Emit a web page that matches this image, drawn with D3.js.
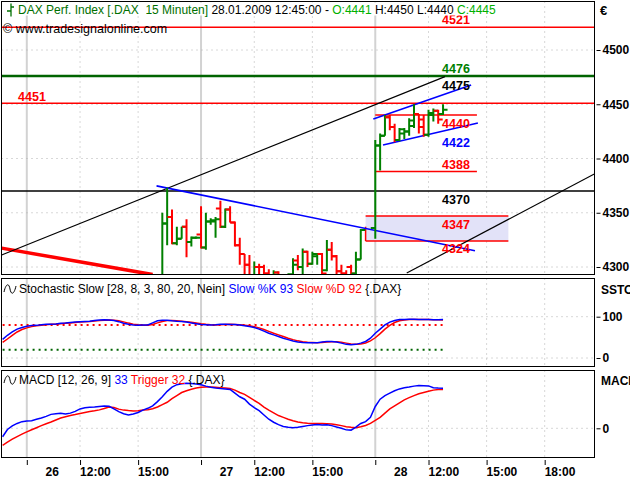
<!DOCTYPE html>
<html><head><meta charset="utf-8">
<script src="https://cdn.jsdelivr.net/npm/d3@7"></script>
<style>
body{margin:0;background:#fff}
svg{display:block}
text{font-family:"Liberation Sans",Arial,sans-serif;white-space:pre}
</style>
</head><body>
<svg id="c" width="640" height="480"></svg>
<script>
// ---------- DATA ----------
// bar slot index: 36 fifteen-minute slots per day, slot 0 = 26.01 09:15
const barSlot  = [28,29,30,31,32,33,34,35,36,37,38,39,40,41,42,43,44,45,46,47,48,49,50,51,52,53,54,55,56,57,58,59,60,61,62,63,64,65,66,67,68,69,72,73,74,75,76,77,78,79,80,81,82,83,84,85,86];
const barOpen  = [4285,4340,4346,4322,4326,4337,4323,4327,4330,4318,4342,4342,4354,4337,4353,4341,4320,4312,4302,4290,4300,4300,4294,4288,4295,4285,4288,4293,4306,4300,4314,4303,4310,4312,4297,4316,4310,4296,4294,4300,4294,4307,4336,4412,4421,4438,4429,4417,4423,4425,4430,4441,4436,4422,4440,4444,4441];
const barHigh  = [4350,4373,4353,4337,4337,4344,4328,4328,4356,4350,4345,4346,4361,4354,4356,4342,4327,4312,4311,4305,4303,4302,4298,4297,4296,4292,4294,4308,4311,4317,4315,4314,4313,4313,4325,4323,4311,4302,4297,4302,4314,4335,4417,4423,4440,4440,4432,4428,4428,4437,4450,4441,4440,4445,4446,4445,4450];
const barLow   = [4270,4320,4321,4320,4326,4309,4319,4326,4317,4316,4339,4327,4336,4336,4341,4319,4302,4293,4285,4288,4285,4290,4285,4284,4280,4278,4282,4290,4297,4290,4300,4302,4302,4292,4296,4306,4293,4290,4288,4291,4292,4307,4326,4389,4421,4426,4415,4416,4418,4421,4428,4423,4420,4420,4434,4432,4440];
const barClose = [4340,4346,4322,4326,4337,4323,4327,4327,4318,4342,4343,4344,4337,4353,4341,4320,4312,4302,4290,4300,4292,4294,4290,4295,4285,4290,4293,4302,4300,4314,4303,4312,4312,4294,4316,4310,4296,4294,4292,4294,4307,4334,4412,4421,4438,4429,4417,4427,4425,4435,4441,4429,4422,4442,4444,4436,4445];

// indicator series, slots -5 .. 86
const stochK = [45,55,63,70,74,77,78.5,79,80.5,82,82,82.5,84,84.5,86,87,88,88.5,89,91,92,92.5,92,91,88,84,81.5,80,79.5,80,80,85,90,91.5,91.5,90,89,88.5,87,85,83,81,80.5,80,80.5,81.5,81.5,81,81,80,78,76,74,70,65,60,56,52,48,44.5,41,39,37.5,37,37,37,38.5,40,40,38.5,36,33,32,33,36,40,48,60,70,80,87,91,93,93.5,94,94,93.5,93.5,93,92.5,92.5,93];
const stochD = [38,46,55,63,69,73,76,78,79,80.5,81.5,82,83,84,85,86,87,88,88.5,89.5,90.5,91.5,92,91.5,90,87.5,84.5,82,80.5,79.5,79.5,81,85,88.5,90.5,91,90,89,88,86.5,85,83,81.5,80.5,80,80.5,81,81.5,81,80.5,79.5,78,76,73,69,64.5,60,56,52,48,44.5,41.5,39.5,38,37.5,37,37.5,38.5,39.5,39.5,38,36,34,33,34,36.5,41.5,49,59,70,79,86,90,92,93,93.5,93.5,93.5,93,92.5,92.5,92];
const macdLine = [-7,-1,2,4,5.5,6,6.3,7.4,8.5,9.8,11.5,12,12.4,11.8,12.5,14,16,17,17.3,17.6,18,18.3,18.2,16,13.7,12,11,11.8,13,15,16.5,18.5,22,26,30.5,34,36,36.8,37.2,37,36.5,36,34.8,33.8,33.2,32.8,32.5,32,29,26,24,20,17,14.5,11,7.5,5,3,1.5,0.8,0.5,0.8,1.5,2.2,2.8,3.2,2.8,2.9,2.2,1,0,-1.3,-1.5,1,4,5.5,9,18,24,27,29,31,32.5,33.5,34,34.8,35.3,35.2,35,33.5,33.2,33];
const trigLine = [-14,-11.5,-9,-6.8,-4.8,-3,-1.2,0.5,2.2,3.8,5.2,6.8,8.5,9.5,10.5,11.3,12.2,13,13.8,14.4,15.2,16.3,17.5,17.2,15.8,15,14.6,14.3,14.5,15,15.3,16.2,17.6,19.5,21.5,24.5,27,29.5,31,32.2,33.2,33.8,34,34,33.8,33.5,33.2,32.8,31.5,29.5,28,25.5,23,20.5,17.5,15,12.8,10.5,9,7.5,6.2,5.2,4.5,4.1,4,4,3.9,3.7,3.5,3,2.2,1.3,0.8,0.5,1.2,2.3,4,6.5,9,12.5,16,18.5,21,23.5,25.3,27,28.5,29.5,30.5,31.5,32,32];
const indFirstSlot = -5;

// axis ticks
const priceTicks = [4300,4350,4400,4450,4500];
const stochTicks = [0,100];
const macdTicks = [0];
const timeTickSlots  = [0,11,23,36,47,59,72,83,95,107];
const timeTickLabels = ["26","12:00","15:00","27","12:00","15:00","28","12:00","15:00","18:00"];
const dayStartSlots = [0,36,72];

// horizontal levels and their labels
const fullLevels   = [4521,4476,4451,4370];
const fullLevelCol = ["#ff0000","#006400","#ff0000","#000000"];
const shortLevels  = [4440,4388];          // drawn from slot 72 on
const shortFrom = 72, shortTo = 93;
const gapTop = 4347, gapBottom = 4324, gapFrom = 70, gapTo = 99.5;
const labelVals  = [4521,4476,4475,4440,4422,4388,4370,4347,4324];
const labelCols  = ["#ff0000","#008000","#000000","#ff0000","#0000ff","#ff0000","#000000","#ff0000","#ff0000"];
const labelAbove = [true,true,false,false,false,true,false,false,false];
const leftLabel = 4451;

// trend lines [slot, value] pairs
const blackUp   = [[-5.2,4311],[86.4,4475.5]];
const redDown   = [[-5.2,4317.4],[26,4293]];
const blueDown  = [[26.8,4374.8],[92.6,4314.9]];
const blueChanH = [[71.6,4436.5],[91.8,4467.8]];
const blueChanL = [[73.6,4412.5],[93.2,4432.8]];
const blackUp2  = [[78.5,4294.4],[118,4387.5]];

// ---------- LAYOUT ----------
const svg = d3.select("#c");
const L = 1.5, R = 594.5;
const P = {main:[1.5,274.5], sto:[278.5,366.5], macd:[370.5,457.5]};

const x = d3.scaleLinear().domain([0,36]).range([26.8, 26.8+36*4.84]);
const yMain = d3.scaleLinear().domain([4300,4500]).range([267,50]);
const ySto  = d3.scaleLinear().domain([0,100]).range([358,316.7]);
const yMacd = d3.scaleLinear().domain([0,33]).range([428.3,388.3]);

const defs = svg.append("defs");
Object.entries(P).forEach(([k,[t,b]])=>{
  defs.append("clipPath").attr("id","clip-"+k).append("rect")
    .attr("x",L).attr("y",t).attr("width",R-L).attr("height",b-t);
});
defs.append("clipPath").attr("id","clip-axis").append("rect")
  .attr("x",R).attr("y",0).attr("width",630-R).attr("height",480);

function panelGrid(g, t, b){
  timeTickSlots.forEach(s=>{
    const day = dayStartSlots.includes(s);
    g.append("line").attr("x1",x(s)).attr("x2",x(s)).attr("y1",t).attr("y2",b)
      .attr("stroke", day? "#d2d2d2" : "#b0b0b0")
      .attr("stroke-width", day? 2 : 1)
      .attr("stroke-dasharray", day? null : "1,4");
  });
}
function hDotted(g, y){
  g.append("line").attr("x1",L).attr("x2",R).attr("y1",y).attr("y2",y)
    .attr("stroke","#b0b0b0").attr("stroke-dasharray","1,4");
}

// ---------- MAIN PANEL ----------
const gm = svg.append("g").attr("clip-path","url(#clip-main)");
panelGrid(gm, P.main[0], P.main[1]);
priceTicks.forEach(v=>hDotted(gm, yMain(v)));

// gap box
gm.append("rect").attr("x",x(gapFrom)).attr("y",yMain(gapTop))
  .attr("width",x(gapTo)-x(gapFrom)).attr("height",yMain(gapBottom)-yMain(gapTop))
  .attr("fill","#e2e2f8");
[gapTop,gapBottom].forEach(v=>gm.append("line").attr("x1",x(gapFrom)).attr("x2",x(gapTo))
  .attr("y1",yMain(v)).attr("y2",yMain(v)).attr("stroke","#ff0000").attr("stroke-width",1.5));
gm.append("line").attr("x1",x(gapFrom)).attr("x2",x(gapFrom))
  .attr("y1",yMain(4337)).attr("y2",yMain(gapBottom)).attr("stroke","#ff0000").attr("stroke-width",1.5);

// full-width levels
fullLevels.forEach((v,i)=>{
  gm.append("line").attr("x1",L).attr("x2",R).attr("y1",yMain(v)).attr("y2",yMain(v))
    .attr("stroke",fullLevelCol[i]).attr("stroke-width", v===4476?2.5:1.5);
});
shortLevels.forEach(v=>{
  gm.append("line").attr("x1",x(shortFrom)).attr("x2",x(shortTo)).attr("y1",yMain(v)).attr("y2",yMain(v))
    .attr("stroke","#ff0000").attr("stroke-width",1.5);
});

// trend lines
const tl = d3.line().x(d=>x(d[0])).y(d=>yMain(d[1]));
function trend(pts,col,w){ gm.append("path").attr("d",tl(pts)).attr("fill","none").attr("stroke",col).attr("stroke-width",w); }
trend(redDown,"#ff0000",3.5);
trend(blackUp,"#000000",1.2);
trend(blackUp2,"#000000",1.2);
trend(blueDown,"#0000ff",1.6);
trend(blueChanH,"#0000ff",1.6);
trend(blueChanL,"#0000ff",1.6);

// bars
const bars = gm.append("g");
barSlot.forEach((s,i)=>{
  const col = barClose[i] >= barOpen[i] ? "#008000" : "#ff0000";
  const cx = x(s);
  bars.append("line").attr("x1",cx).attr("x2",cx).attr("y1",yMain(barHigh[i])).attr("y2",yMain(barLow[i]))
    .attr("stroke",col).attr("stroke-width",2);
  bars.append("line").attr("x1",cx-4.5).attr("x2",cx).attr("y1",yMain(barOpen[i])).attr("y2",yMain(barOpen[i]))
    .attr("stroke",col).attr("stroke-width",2);
  bars.append("line").attr("x1",cx).attr("x2",cx+4.5).attr("y1",yMain(barClose[i])).attr("y2",yMain(barClose[i]))
    .attr("stroke",col).attr("stroke-width",2);
});

// level labels
labelVals.forEach((v,i)=>{
  gm.append("text").attr("x",456).attr("y", labelAbove[i]? yMain(v)-3 : yMain(v)+12.5)
    .attr("text-anchor","middle").attr("font-size",12.5).attr("font-weight","bold")
    .attr("fill",labelCols[i]).text(String(v));
});
gm.append("text").attr("x",32).attr("y",yMain(leftLabel)-2.5).attr("text-anchor","middle")
  .attr("font-size",12.5).attr("font-weight","bold").attr("fill","#ff0000").text(String(leftLabel));

// title
const titleG = svg.append("g");
const tBg = titleG.append("rect").attr("fill","#fff").attr("x",16).attr("y",2.5).attr("height",13);
const title = titleG.append("text").attr("x",18).attr("y",14).attr("font-size",12);
title.append("tspan").attr("fill","#007000").text("DAX Perf. Index [.DAX  15 Minuten] ");
title.append("tspan").attr("fill","#000").text("28.01.2009 12:45:00 - ");
title.append("tspan").attr("fill","#00b000").text("O:"+barOpen[barOpen.length-1]);
title.append("tspan").attr("fill","#000").text(" H:"+barHigh[barHigh.length-1]+" L:"+barLow[barLow.length-1]+" ");
title.append("tspan").attr("fill","#00b000").text("C:"+barClose[barClose.length-1]);
tBg.attr("width", title.node().getComputedTextLength()+4);
titleG.append("path").attr("d","M11,3.5V16.5M7,11H11M11,7H14").attr("stroke","#007000").attr("stroke-width",1.3).attr("fill","none");
svg.append("text").attr("x",3).attr("y",33).attr("font-size",12.5).attr("fill","#000").text("© www.tradesignalonline.com");

// ---------- STOCHASTIC ----------
const gs = svg.append("g").attr("clip-path","url(#clip-sto)");
panelGrid(gs, P.sto[0], P.sto[1]);
stochTicks.forEach(v=>hDotted(gs, ySto(v)));
const indX = i => x(indFirstSlot + i);
const lastInd = indFirstSlot + stochK.length - 1;
gs.append("line").attr("x1",x(indFirstSlot)).attr("x2",x(lastInd)).attr("y1",ySto(80)).attr("y2",ySto(80))
  .attr("stroke","#ff0000").attr("stroke-width",2).attr("stroke-dasharray","2,4");
gs.append("line").attr("x1",x(indFirstSlot)).attr("x2",x(lastInd)).attr("y1",ySto(20)).attr("y2",ySto(20))
  .attr("stroke","#006400").attr("stroke-width",2).attr("stroke-dasharray","2,4");
const sl = d3.line().x((d,i)=>indX(i)).y(d=>ySto(d));
gs.append("path").attr("d",sl(stochD)).attr("fill","none").attr("stroke","#ff0000").attr("stroke-width",1.5);
gs.append("path").attr("d",sl(stochK)).attr("fill","none").attr("stroke","#0000ff").attr("stroke-width",1.5);

// ---------- MACD ----------
const gd = svg.append("g").attr("clip-path","url(#clip-macd)");
panelGrid(gd, P.macd[0], P.macd[1]);
macdTicks.forEach(v=>hDotted(gd, yMacd(v)));
const ml = d3.line().x((d,i)=>indX(i)).y(d=>yMacd(d));
gd.append("path").attr("d",ml(trigLine)).attr("fill","none").attr("stroke","#ff0000").attr("stroke-width",1.5);
gd.append("path").attr("d",ml(macdLine)).attr("fill","none").attr("stroke","#0000ff").attr("stroke-width",1.5);

// panel titles
function wave(xx,yy){
  svg.append("path").attr("d",`M${xx},${yy+3} C${xx+2},${yy-6} ${xx+5},${yy-6} ${xx+6},${yy} S${xx+10},${yy+6} ${xx+12},${yy-3}`)
    .attr("fill","none").attr("stroke","#000").attr("stroke-width",1);
}
wave(4,289);
const st = svg.append("text").attr("x",19).attr("y",293).attr("font-size",12);
st.append("tspan").attr("fill","#000").text("Stochastic Slow [28, 8, 3, 80, 20, Nein] ");
st.append("tspan").attr("fill","#0000ff").text("Slow %K "+Math.round(stochK[stochK.length-1])+" ");
st.append("tspan").attr("fill","#ff0000").text("Slow %D "+Math.round(stochD[stochD.length-1])+" ");
st.append("tspan").attr("fill","#000").text("{.DAX}");
wave(4,380);
const mt = svg.append("text").attr("x",19).attr("y",384).attr("font-size",12);
mt.append("tspan").attr("fill","#000").text("MACD [12, 26, 9] ");
mt.append("tspan").attr("fill","#0000ff").text(Math.round(macdLine[macdLine.length-1])+" ");
mt.append("tspan").attr("fill","#ff0000").text("Trigger "+Math.round(trigLine[trigLine.length-1])+" ");
mt.append("tspan").attr("fill","#000").text("{.DAX}");

// panel borders
Object.values(P).forEach(([t,b])=>{
  svg.append("rect").attr("x",L).attr("y",t).attr("width",R-L).attr("height",b-t)
    .attr("fill","none").attr("stroke","#000").attr("stroke-width",1);
});

// ---------- RIGHT AXES ----------
const ax = svg.append("g").attr("clip-path","url(#clip-axis)");
function rightAxis(scale, ticks){
  const g = ax.append("g").attr("transform",`translate(${R+2},0)`)
    .call(d3.axisRight(scale).tickValues(ticks).tickSize(4).tickPadding(2).tickFormat(d3.format("d")));
  g.select(".domain").remove();
  g.selectAll("text").attr("font-size",12).attr("font-weight","bold").attr("fill","#000")
    .attr("font-family","Liberation Sans, Arial, sans-serif");
  g.selectAll("line").attr("stroke","#000");
}
rightAxis(yMain, priceTicks);
rightAxis(ySto, stochTicks);
rightAxis(yMacd, macdTicks);
ax.append("text").attr("x",600).attr("y",15).attr("font-size",13).attr("font-weight","bold").text("€");
ax.append("text").attr("x",601).attr("y",294).attr("font-size",12).attr("font-weight","bold").text("SSTOCH");
ax.append("text").attr("x",601).attr("y",385).attr("font-size",12).attr("font-weight","bold").text("MACD");

// ---------- TIME AXIS ----------
const xa = svg.append("g").attr("transform","translate(0,460)")
  .call(d3.axisBottom(x).tickValues(timeTickSlots).tickSize(5).tickPadding(2)
        .tickFormat((d,i)=>timeTickLabels[i]));
xa.select(".domain").remove();
xa.selectAll("line").attr("stroke","#000");
xa.selectAll("text").attr("font-size",12).attr("font-weight","bold").attr("fill","#000")
  .attr("font-family","Liberation Sans, Arial, sans-serif")
  .attr("text-anchor",(d)=>dayStartSlots.includes(d)?"middle":"start")
  .attr("dx",(d)=>dayStartSlots.includes(d)?25:-0.5);
</script>
</body></html>
